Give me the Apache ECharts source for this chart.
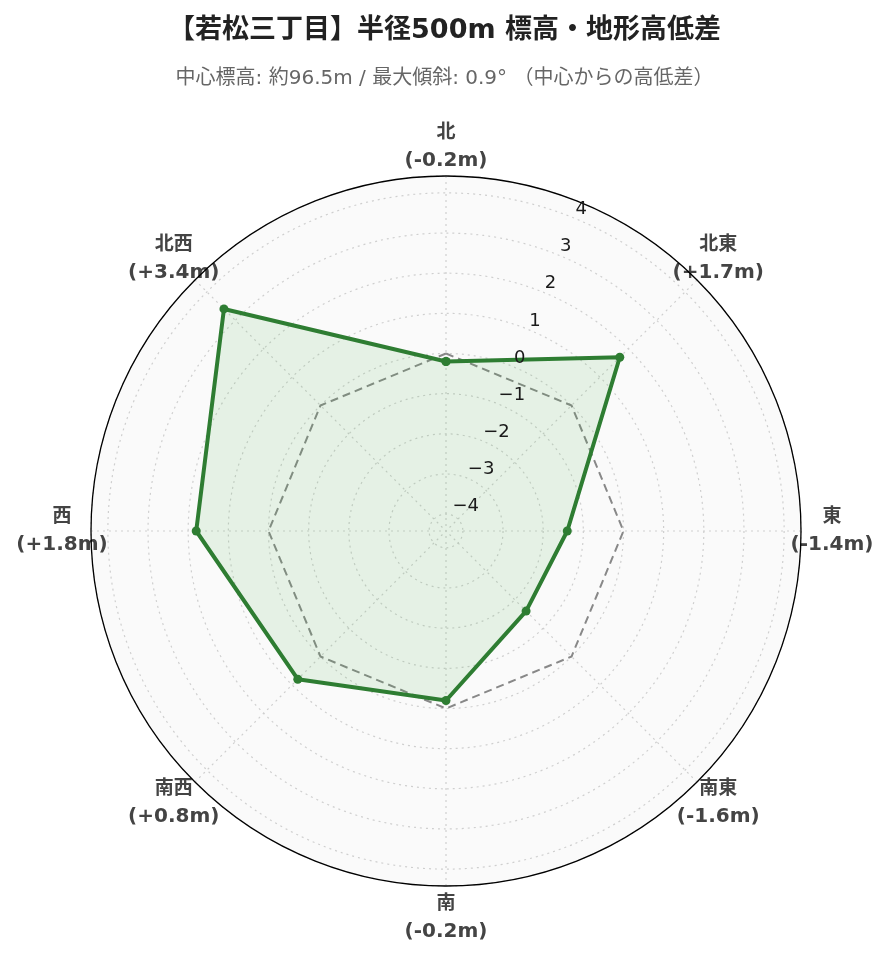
<!DOCTYPE html>
<html><head><meta charset="utf-8">
<script src="https://cdn.jsdelivr.net/npm/echarts@6/dist/echarts.min.js"></script>
<style>html,body{margin:0;padding:0;background:#fff}#c{width:889px;height:962px}</style>
</head><body><div id="c"></div>
<script>
const directions = ['北','北東','東','南東','南','南西','西','北西'];
const diffs = [-0.2, 1.7, -1.4, -1.6, -0.2, 0.8, 1.8, 3.4];
const baseline = [0, 0, 0, 0, 0, 0, 0, 0];
const radialRange = [-4.42, 4.42];
const titleText = '【若松三丁目】半径500m 標高・地形高低差';
const subtitleText = '中心標高: 約96.5m / 最大傾斜: 0.9° （中心からの高低差）';

const step = 360 / directions.length;
function closed(vals){
  const pts = vals.map((v,i)=>[v, i*step]);
  pts.push([vals[0], 360]);
  return pts;
}
function fmtDiff(v){ return '(' + (v>0?'+':'') + v.toFixed(1) + 'm)'; }

// label block built so that the text sits centred ~30px outside the circle
function angleLabel(i){
  const a = i*step*Math.PI/180;
  const sx = Math.sin(a), cy = -Math.cos(a);
  const d = '{d|'+directions[i]+'}', v = '{v|'+fmtDiff(diffs[i])+'}';
  if(Math.abs(sx) < 0.3){            // north / south: centred
    return cy < 0 ? d+'\n'+v+'\n{vn| }' : '{vs| }\n'+d+'\n'+v;
  }
  if(Math.abs(cy) < 0.3){            // east / west: middle
    return sx > 0 ? '{hl| }'+d+'\n{hl| }'+v : d+'{hr| }\n'+v+'{hr| }';
  }
  return cy < 0 ? d+'\n'+v+'\n{vd| }' : '{vd| }\n'+d+'\n'+v;   // diagonals
}

const chart = echarts.init(document.getElementById('c'));
const fam = '"DejaVu Sans", "Noto Sans CJK JP", sans-serif';
chart.setOption({
  animation:false,
  backgroundColor:'#fff',
  title:[{
    text:titleText, left:'center', top:12,
    textStyle:{fontFamily:fam, fontWeight:'bold', fontSize:27, color:'#222'}
  },{
    text:subtitleText, left:'center', top:64,
    textStyle:{fontFamily:fam, fontWeight:'normal', fontSize:20, color:'#666'}
  }],
  polar:[
    {center:[446,531], radius:355},
    {center:[446,531], radius:355}
  ],
  angleAxis:[{
    polarIndex:0, type:'value', min:0, max:360, interval:step,
    startAngle:90, clockwise:true,
    axisLine:{show:true, lineStyle:{color:'#000', width:1.3}},
    axisTick:{show:false},
    splitLine:{show:true, lineStyle:{color:'#cfcfcf', type:[2,4], width:1.2}},
    splitArea:{show:false},
    axisLabel:{
      margin:-35,
      formatter:function(val){
        const i = Math.round(val/step);
        if(i>=directions.length) return '';
        return angleLabel(i);
      },
      rich:{
        d:{fontFamily:fam, fontWeight:'bold', fontSize:19, color:'#444', lineHeight:28, align:'center'},
        v:{fontFamily:fam, fontWeight:'bold', fontSize:20, color:'#444', lineHeight:28, align:'center', width:92},
        vn:{fontSize:1, lineHeight:36},
        vs:{fontSize:1, lineHeight:39},
        vd:{fontSize:1, lineHeight:18},
        hl:{fontSize:1, width:20, align:'left', lineHeight:28},
        hr:{fontSize:1, width:18, align:'right', lineHeight:28}
      }
    },
    z:2
  },{
    polarIndex:1, type:'value', min:0, max:360,
    startAngle:67.5, clockwise:true,
    axisLine:{show:false}, axisTick:{show:false}, axisLabel:{show:false},
    splitLine:{show:false},
    splitArea:{show:true, areaStyle:{color:['#fafafa']}},
    z:0
  }],
  radiusAxis:[{
    polarIndex:0, type:'value', min:radialRange[0], max:radialRange[1], splitNumber:9,
    axisLine:{show:false}, axisTick:{show:false}, axisLabel:{show:false},
    splitLine:{show:true, lineStyle:{color:'#cfcfcf', type:[2,4], width:1.2}},
    z:2
  },{
    polarIndex:1, type:'value', min:radialRange[0], max:radialRange[1], splitNumber:9,
    axisLine:{show:false}, axisTick:{show:false}, splitLine:{show:false},
    showMinLabel:false, showMaxLabel:false,
    axisLabel:{
      show:true, margin:0, align:'left', verticalAlign:'bottom',
      fontFamily:'"DejaVu Sans"', fontSize:18, color:'#1a1a1a',
      formatter:function(v){
        if(Math.abs(v-Math.round(v))>1e-6) return '';
        return String(Math.round(v)).replace('-','\u2212');
      }
    },
    z:10
  }],
  series:[{
    type:'line', coordinateSystem:'polar', polarIndex:0,
    data:closed(baseline), symbol:'none', silent:true,
    lineStyle:{color:'#888', width:2, type:[8,5]}, z:3
  },{
    type:'line', coordinateSystem:'polar', polarIndex:0,
    data:closed(diffs), symbol:'circle', symbolSize:9,
    itemStyle:{color:'#2e7d32'},
    lineStyle:{color:'#2e7d32', width:4},
    areaStyle:{color:'rgba(76,175,80,0.17)', origin:'start'}, z:4
  }]
});
</script></body></html>
